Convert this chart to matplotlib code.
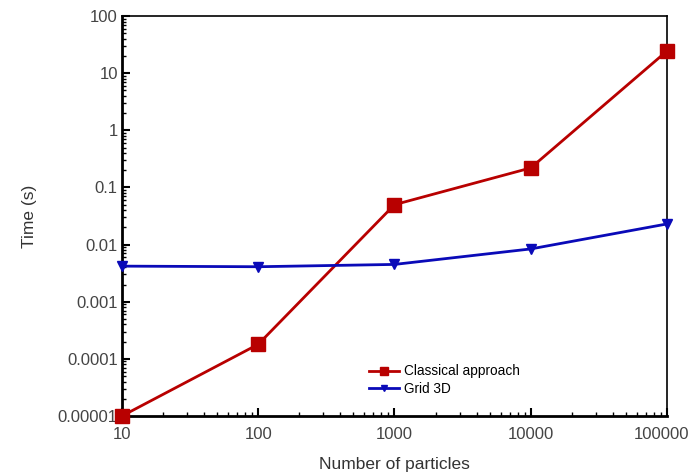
import matplotlib
matplotlib.use("Agg")
import matplotlib.pyplot as plt
import matplotlib.transforms as mtransforms
from matplotlib.ticker import FixedLocator, FixedFormatter, LogLocator, NullFormatter

plt.rcParams['font.family'] = ['Liberation Sans', 'DejaVu Sans']

particles = [10, 100, 1000, 10000, 100000]
classical = [1.0e-5, 1.8e-4, 0.05, 0.22, 24.5]
grid3d = [0.0042, 0.0041, 0.0045, 0.0084, 0.023]
yticks = [1e-5, 1e-4, 1e-3, 1e-2, 1e-1, 1, 10, 100]
ytick_labels = ["0.00001", "0.0001", "0.001", "0.01", "0.1", "1", "10", "100"]
xticks = [10, 100, 1000, 10000, 100000]
xtick_labels = ["10", "100", "1000", "10000", "100000"]

fig = plt.figure(figsize=(6.93, 4.73), dpi=100)
ax = fig.add_axes([0.176, 0.1205, 0.7865, 0.8455])
ax.plot(particles, classical, color="#b80000", lw=2, marker="s", ms=10,
        label="Classical approach", clip_on=False, zorder=3)
ax.plot(particles, grid3d, color="#0a0ab8", lw=2, marker="v", ms=7,
        label="Grid 3D", clip_on=False, zorder=3)
ax.set_xscale("log")
ax.set_yscale("log")
ax.set_xlim(10, 100000)
ax.set_ylim(1e-5, 100)
ax.yaxis.set_major_locator(FixedLocator(yticks))
ax.yaxis.set_major_formatter(FixedFormatter(ytick_labels))
ax.xaxis.set_major_locator(FixedLocator(xticks))
ax.xaxis.set_major_formatter(FixedFormatter(xtick_labels))
ax.yaxis.set_minor_locator(LogLocator(base=10, subs=range(2, 10), numticks=20))
ax.xaxis.set_minor_locator(LogLocator(base=10, subs=range(2, 10), numticks=20))
ax.yaxis.set_minor_formatter(NullFormatter())
ax.xaxis.set_minor_formatter(NullFormatter())
ax.tick_params(which="both", direction="in", top=False, right=False,
               labelsize=12, labelcolor="#444444")
ax.tick_params(which="major", length=6, width=1.5)
ax.tick_params(which="minor", length=3, width=1)
ax.tick_params(axis="x", pad=8)
ax.tick_params(axis="y", pad=3)
for side in ["left", "bottom"]:
    ax.spines[side].set_linewidth(2)
for side in ["top", "right"]:
    ax.spines[side].set_linewidth(1.2)
ax.set_xlabel("Number of particles", fontsize=12.5, color="#333333", labelpad=11)
ax.set_ylabel("Time (s)", fontsize=12.5, color="#333333", labelpad=15)
ax.legend(loc="upper left", bbox_to_anchor=(0.43, 0.16), frameon=False,
          fontsize=9.8, handlelength=2.2, labelspacing=0.25, handletextpad=0.4,
          markerscale=0.6)

# nudge the last x tick label so it stays inside the figure
last = ax.get_xticklabels()[-1]
last.set_transform(last.get_transform() +
                   mtransforms.ScaledTranslation(-0.06, 0, fig.dpi_scale_trans))
fig.savefig("out.png", dpi=100)
